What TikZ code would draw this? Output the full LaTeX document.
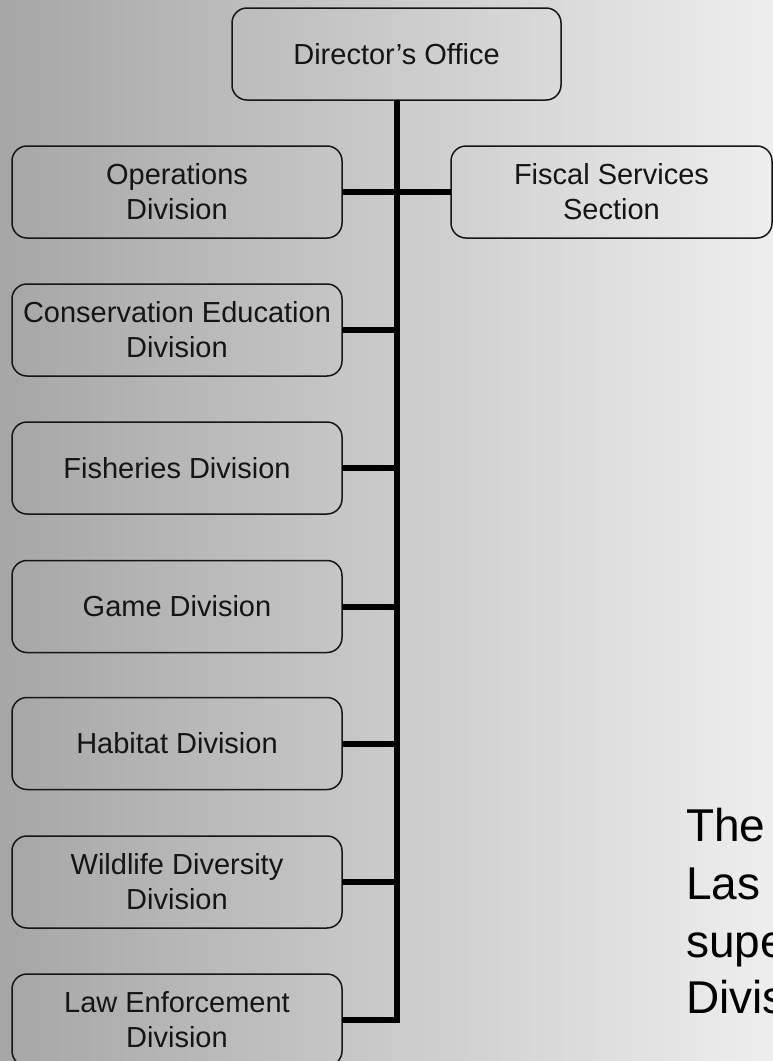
\documentclass[tikz,border=0pt]{standalone}
\usepackage{fontspec}
\setmainfont{Liberation Sans}
\definecolor{bgleft}{HTML}{A6A6A6}
\definecolor{bgright}{HTML}{EEEEEE}
\definecolor{inkgray}{HTML}{151515}

\begin{document}
\begin{tikzpicture}[x=1pt,y=1pt,yscale=-1,
  unitbox/.style={draw=inkgray, line width=1.5pt, rounded corners=15pt,
    minimum width=330pt, minimum height=92pt, inner sep=0pt, outer sep=0pt,
    align=center, text=inkgray, font=\fontsize{29}{35}\selectfont},
  link/.style={line width=6pt, black},
  note/.style={anchor=base west, inner sep=0pt, text=black,
    font=\fontsize{46}{57}\selectfont}]
\useasboundingbox (0,0) rectangle (773,1061);

%Background
\shade[left color=bgleft, right color=bgright] (0,0) rectangle (773,1061);

%Rounded Rect: top
\node[unitbox, minimum width=329pt] (dir) at (396.5,54) {Director’s Office};
%Rounded Rect: staff section
\node[unitbox, minimum width=321pt] (fis) at (611.5,192) {Fiscal Services\\Section};

%Rounded Rect: divisions
\node[unitbox] (ops) at (177,192) {Operations\\Division};
\node[unitbox] (cons) at (177,330) {Conservation Education\\Division};
\node[unitbox] (fish) at (177,468) {Fisheries Division};
\node[unitbox] (game) at (177,606.5) {Game Division};
\node[unitbox] (hab) at (177,743.5) {Habitat Division};
\node[unitbox] (wild) at (177,882) {Wildlife Diversity\\Division};
\node[unitbox] (law) at (177,1020) {Law Enforcement\\Division};

%Straight Lines: trunk
\draw[link] (dir.south) |- (law.east);
%Straight Lines: branches
\draw[link] (ops.east) -- (fis.west);
\foreach \u in {cons,fish,game,hab,wild}
  \draw[link] (\u.east) -- (\u.east -| dir.south);

% Text Node
\node[note] (n1) at (686,841) {The};
\node[note] (n2) at (686,899) {Las};
\node[note] (n3) at (686,957) {supe};
\node[note] (n4) at (686,1013.5) {Divis};

\end{tikzpicture}
\end{document}
